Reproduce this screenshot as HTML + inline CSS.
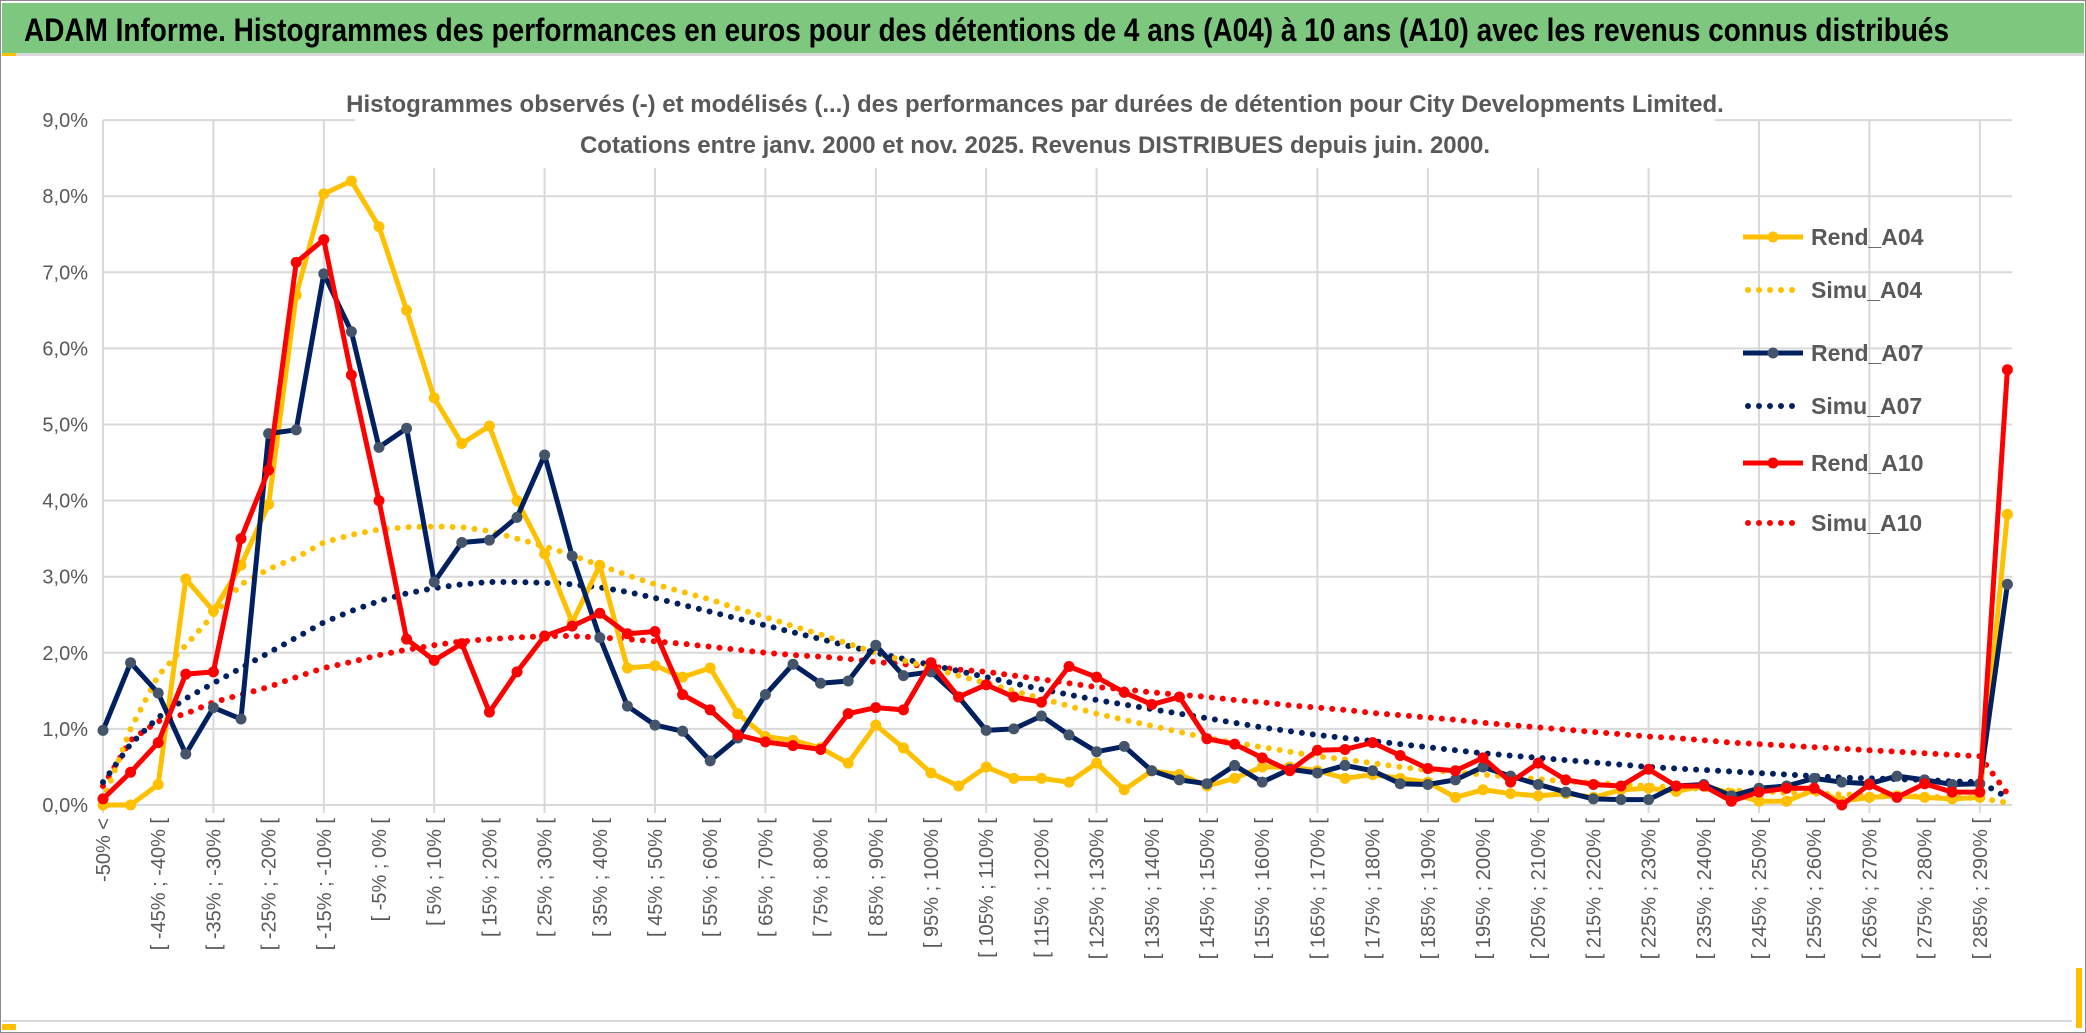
<!DOCTYPE html>
<html><head><meta charset="utf-8">
<style>
html,body{margin:0;padding:0;background:#fff;}
body{width:2086px;height:1033px;overflow:hidden;position:relative;font-family:"Liberation Sans",sans-serif;}
#frame{position:absolute;left:0;top:0;width:2084px;height:1031px;border:1px solid #8a8a8a;}
#titlebar{position:absolute;left:2px;top:3px;width:2082px;height:50px;background:#7dc77f;border-bottom:3px solid #d9d9d9;}
svg{position:absolute;left:0;top:0;}
</style></head>
<body>
<div id="frame"></div>
<div id="titlebar">
<svg width="2082" height="50" style="position:absolute;left:0;top:0"><text x="22" y="38" textLength="1925" lengthAdjust="spacingAndGlyphs" font-family="Liberation Sans, sans-serif" font-weight="bold" font-size="32" fill="#000">ADAM Informe. Histogrammes des performances en euros pour des détentions de 4 ans (A04) à 10 ans (A10) avec les revenus connus distribués</text></svg>
</div>
<div style="position:absolute;left:2px;top:53px;width:14px;height:3px;background:#ffc000"></div>
<div style="position:absolute;left:2px;top:1024px;width:14px;height:6px;background:#ffc000"></div>
<div style="position:absolute;left:2076px;top:968px;width:6px;height:60px;background:#ffc000"></div>
<div style="position:absolute;left:2px;top:1020px;width:2070px;height:2px;background:#d9d9d9"></div>
<svg id="chart" width="2086" height="1033" style="top:0"></svg>
<script>
const categories = (function(){const c=["-50% <"];for(let a=-50;a<295;a+=5){c.push("[ "+a+"% ; "+(a+5)+"% [");}return c;})();
const yTicks = [0,1,2,3,4,5,6,7,8,9];
const rendA04 = [0,0,0.27,2.97,2.55,3.15,3.95,6.7,8.03,8.2,7.6,6.5,5.35,4.75,4.98,4.0,3.3,2.4,3.15,1.8,1.83,1.68,1.8,1.2,0.9,0.85,0.75,0.55,1.05,0.75,0.42,0.25,0.5,0.35,0.35,0.3,0.55,0.2,0.45,0.4,0.25,0.35,0.5,0.5,0.45,0.35,0.4,0.35,0.3,0.1,0.2,0.15,0.12,0.15,0.1,0.2,0.22,0.18,0.25,0.15,0.05,0.05,0.2,0.05,0.1,0.12,0.1,0.08,0.1,3.82];
const rendA07 = [0.98,1.87,1.47,0.67,1.28,1.13,4.88,4.93,6.98,6.22,4.7,4.95,2.93,3.45,3.48,3.78,4.6,3.27,2.2,1.3,1.05,0.97,0.58,0.88,1.45,1.85,1.6,1.63,2.1,1.7,1.75,1.42,0.98,1.0,1.17,0.92,0.7,0.77,0.45,0.33,0.28,0.52,0.3,0.47,0.42,0.52,0.45,0.28,0.27,0.33,0.5,0.38,0.27,0.17,0.08,0.07,0.07,0.25,0.27,0.12,0.22,0.25,0.35,0.3,0.28,0.38,0.33,0.27,0.28,2.9];
const rendA10 = [0.08,0.43,0.82,1.72,1.75,3.5,4.4,7.13,7.43,5.65,4.0,2.18,1.9,2.12,1.22,1.75,2.22,2.35,2.52,2.25,2.28,1.45,1.25,0.92,0.83,0.78,0.73,1.2,1.28,1.25,1.87,1.42,1.58,1.42,1.35,1.82,1.68,1.48,1.32,1.42,0.87,0.8,0.62,0.45,0.72,0.73,0.82,0.65,0.48,0.45,0.62,0.3,0.55,0.33,0.27,0.25,0.47,0.25,0.25,0.05,0.17,0.22,0.22,0.0,0.27,0.1,0.28,0.17,0.17,5.72];
const simuA04 = [0.05,1.0,1.7,2.1,2.5,2.9,3.1,3.25,3.45,3.55,3.62,3.65,3.66,3.65,3.6,3.5,3.4,3.28,3.15,3.02,2.9,2.8,2.7,2.58,2.47,2.35,2.24,2.12,2.0,1.9,1.8,1.7,1.6,1.5,1.4,1.3,1.2,1.12,1.04,0.96,0.88,0.82,0.76,0.7,0.64,0.6,0.55,0.5,0.46,0.43,0.4,0.37,0.34,0.31,0.29,0.27,0.25,0.23,0.21,0.19,0.18,0.16,0.15,0.14,0.13,0.12,0.11,0.1,0.09,0.03];
const simuA07 = [0.3,0.8,1.15,1.4,1.6,1.8,2.0,2.2,2.4,2.55,2.68,2.78,2.85,2.9,2.93,2.93,2.92,2.9,2.86,2.8,2.72,2.63,2.54,2.45,2.36,2.27,2.18,2.09,2.0,1.92,1.84,1.76,1.68,1.6,1.52,1.45,1.38,1.32,1.26,1.2,1.14,1.08,1.02,0.97,0.92,0.88,0.84,0.8,0.76,0.72,0.68,0.65,0.62,0.59,0.56,0.53,0.5,0.48,0.46,0.44,0.42,0.4,0.38,0.36,0.35,0.34,0.33,0.31,0.3,0.1];
const simuA10 = [0.25,0.85,1.1,1.2,1.35,1.45,1.55,1.68,1.8,1.88,1.97,2.04,2.1,2.15,2.18,2.2,2.22,2.22,2.2,2.18,2.15,2.12,2.08,2.04,2.0,1.97,1.95,1.92,1.88,1.85,1.82,1.78,1.75,1.7,1.65,1.6,1.55,1.52,1.48,1.45,1.42,1.38,1.35,1.31,1.28,1.25,1.21,1.18,1.15,1.12,1.08,1.05,1.02,0.99,0.96,0.93,0.9,0.88,0.85,0.82,0.8,0.78,0.76,0.74,0.72,0.7,0.68,0.66,0.64,0.15];

const NS="http://www.w3.org/2000/svg";
const svg=document.getElementById('chart');
const X0=103,DX=27.6,Y0=805,DY=76.1;
function xScale(i){return X0+i*DX;}
function yScale(v){return Y0-v*DY;}
function mk(tag,attrs,parent){const e=document.createElementNS(NS,tag);for(const k in attrs)e.setAttribute(k,attrs[k]);(parent||svg).appendChild(e);return e;}

const grid=mk('g',{});


yTicks.forEach(t=>{
  const l=mk('line',{x1:xScale(0),x2:2012,y1:yScale(t),y2:yScale(t),stroke:'#d9d9d9','stroke-width':2},grid);
  
  
  const tx=mk('text',{x:88,y:yScale(t)+7,'text-anchor':'end','font-size':20,fill:'#595959','font-family':'Liberation Sans, sans-serif'});
  tx.textContent=t.toFixed(1).replace('.',',')+'%';
  
  
});
for(let i=0;i<categories.length;i+=4){
  const l=mk('line',{x1:xScale(i),x2:xScale(i),y1:yScale(9),y2:Y0+8,stroke:'#d9d9d9','stroke-width':2},grid);
  
  
}
mk('rect',{x:355,y:78,width:1360,height:90,fill:'#fff'});
categories.forEach((c,i)=>{
  if(i%2) return;
  const x=xScale(i)+7,y=818;
  const t=mk('text',{x:x,y:y,transform:`rotate(-90 ${x} ${y})`,'text-anchor':'end','font-size':20,fill:'#595959','font-family':'Liberation Sans, sans-serif'});
  t.textContent=c;
  
  
});
const s1=mk('text',{x:1035,y:112,'text-anchor':'middle','font-size':24,fill:'#595959','font-weight':'bold','font-family':'Liberation Sans, sans-serif'});
s1.textContent='Histogrammes observés (-) et modélisés (...) des performances par durées de détention pour City Developments Limited.';


const s2=mk('text',{x:1035,y:153,'text-anchor':'middle','font-size':24,fill:'#595959','font-weight':'bold','font-family':'Liberation Sans, sans-serif'});
s2.textContent='Cotations entre janv. 2000 et nov. 2025. Revenus DISTRIBUES depuis juin. 2000.';



function pts(arr){return arr.map((v,i)=>xScale(i)+','+yScale(v)).join(' ');}
function dotted(arr,color,name){
  const p=mk('polyline',{points:pts(arr),fill:'none',stroke:color,'stroke-width':6,'stroke-linecap':'round','stroke-dasharray':'0 11'});
  
  
}
function solid(arr,color,mcol,name){
  const g=mk('g',{});
  
  
  mk('polyline',{points:pts(arr),fill:'none',stroke:color,'stroke-width':5,'stroke-linejoin':'round'},g);
  arr.forEach((v,i)=>{
    const c=mk('circle',{cx:xScale(i),cy:yScale(v),r:5.5,fill:mcol},g);
    
    
  });
}
dotted(simuA10,'#ff0000','simu-a10-line');
dotted(simuA07,'#002060','simu-a07-line');
dotted(simuA04,'#ffc000','simu-a04-line');
solid(rendA04,'#ffc000','#ffc000','rend-a04-line');
solid(rendA07,'#002060','#44546a','rend-a07-line');
solid(rendA10,'#ff0000','#ff0000','rend-a10-line');

const legend=[['Rend_A04','#ffc000','#ffc000',false],['Simu_A04','#ffc000',null,true],['Rend_A07','#002060','#44546a',false],['Simu_A07','#002060',null,true],['Rend_A10','#ff0000','#ff0000',false],['Simu_A10','#ff0000',null,true]];
const lg=mk('g',{});


const ly=[237,290,353,406,463,523];
legend.forEach((e,k)=>{
  const g=mk('g',{},lg);
  
  
  const y=ly[k];
  if(e[3]) mk('line',{x1:1748,x2:1800,y1:y,y2:y,stroke:e[1],'stroke-width':6,'stroke-linecap':'round','stroke-dasharray':'0 11'},g);
  else {mk('line',{x1:1743,x2:1803,y1:y,y2:y,stroke:e[1],'stroke-width':5},g);mk('circle',{cx:1773,cy:y,r:5.5,fill:e[2]},g);}
  const t=mk('text',{x:1811,y:y+8,'font-size':23,fill:'#595959','font-weight':'bold','font-family':'Liberation Sans, sans-serif'},g);
  t.textContent=e[0];
});
</script>
</body></html>
